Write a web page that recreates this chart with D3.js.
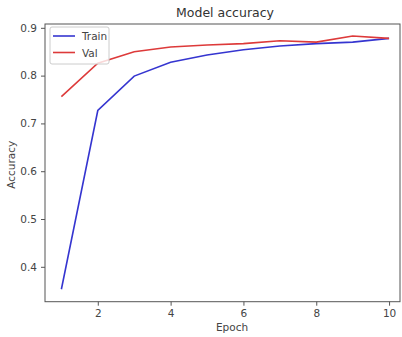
<!DOCTYPE html>
<html><head><meta charset="utf-8">
<script src="https://cdn.jsdelivr.net/npm/d3@7"></script>
<style>body{margin:0;background:#fff}svg{display:block}text{font-family:"DejaVu Sans",sans-serif}</style>
</head><body>
<svg id="c" width="402" height="337"></svg>
<script>
const epochs = [1,2,3,4,5,6,7,8,9,10];
const trainAcc = [0.353,0.727,0.799,0.828,0.843,0.854,0.862,0.867,0.870,0.878];
const valAcc = [0.756,0.826,0.850,0.860,0.864,0.867,0.873,0.870,0.883,0.878];
const xTicks = [2,4,6,8,10];
const yTicks = [0.4,0.5,0.6,0.7,0.8,0.9];
const seriesNames = ["Train","Val"];
const colors = ["#3535d0","#dd3a3a"];

const svg = d3.select("#c");
const L=45, R=400, T=24, B=301.7;
const x = d3.scaleLinear().domain([0.55,10.30]).range([L,R]);
const y = d3.scaleLinear().domain([0.327,0.908]).range([B,T]);

const tc="#444";
svg.append("rect").attr("x",L).attr("y",T).attr("width",R-L).attr("height",B-T)
  .attr("fill","none").attr("stroke","#555").attr("stroke-width",1);

const xa = svg.append("g").attr("transform",`translate(0,${B})`)
  .call(d3.axisBottom(x).tickValues(xTicks).tickSize(4).tickPadding(4).tickFormat(d3.format("d")));
const ya = svg.append("g").attr("transform",`translate(${L},0)`)
  .call(d3.axisLeft(y).tickValues(yTicks).tickSize(4).tickPadding(4).tickFormat(d3.format(".1f")));
[xa,ya].forEach(a=>{a.select(".domain").remove();a.selectAll("line").attr("stroke","#555");
  a.selectAll("text").attr("fill",tc).style("font-size","10.5px").style("font-family","DejaVu Sans");});

const line = d3.line().x((d,i)=>x(epochs[i])).y(d=>y(d));
[trainAcc,valAcc].forEach((s,k)=>{
  svg.append("path").datum(s).attr("d",line).attr("fill","none")
    .attr("stroke",colors[k]).attr("stroke-width",1.6);
});

svg.append("text").attr("x",225).attr("y",17).attr("text-anchor","middle")
  .attr("fill","#333").style("font-size","12.5px").text("Model accuracy");
svg.append("text").attr("x",232).attr("y",331).attr("text-anchor","middle")
  .attr("fill",tc).style("font-size","10.5px").text("Epoch");
svg.append("text").attr("transform",`translate(15,${(T+B)/2+2}) rotate(-90)`).attr("text-anchor","middle")
  .attr("fill",tc).style("font-size","10.5px").text("Accuracy");

const lg = svg.append("g");
lg.append("rect").attr("x",50).attr("y",27).attr("width",59).attr("height",37).attr("rx",2)
  .attr("fill","#fff").attr("fill-opacity",0.8).attr("stroke","#ccc");
seriesNames.forEach((n,k)=>{
  const yy = 36 + k*16.5;
  lg.append("line").attr("x1",53).attr("x2",75).attr("y1",yy).attr("y2",yy)
    .attr("stroke",colors[k]).attr("stroke-width",1.6);
  lg.append("text").attr("x",82).attr("y",yy+4).attr("fill",tc).style("font-size","10.5px").text(n);
});
</script>
</body></html>
